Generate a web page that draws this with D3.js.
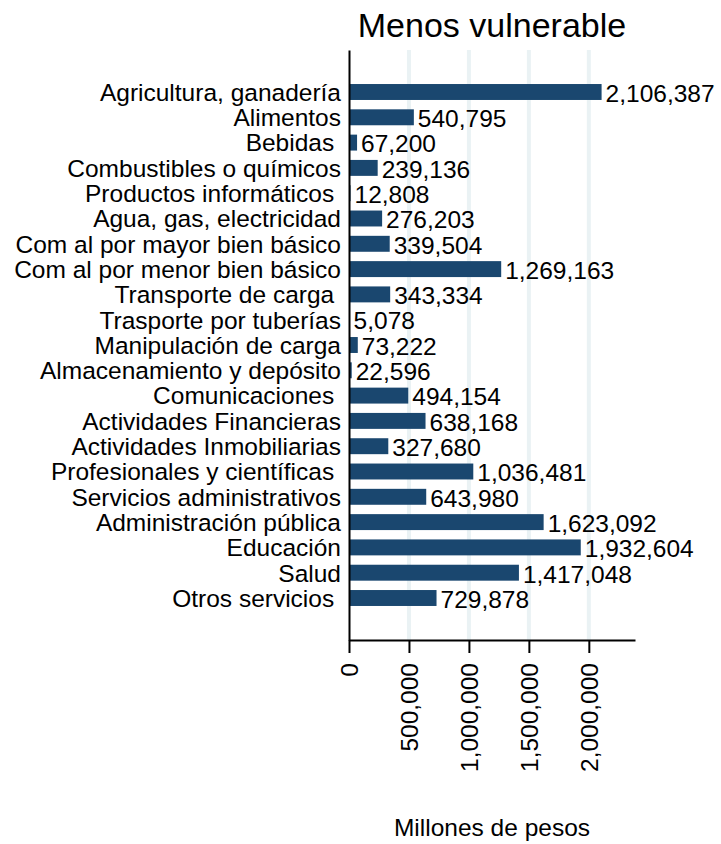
<!DOCTYPE html>
<html>
<head>
<meta charset="utf-8">
<script src="https://cdn.jsdelivr.net/npm/d3@7"></script>
<style>
  body { margin: 0; background: #fff; }
  text { font-family: "Liberation Sans", Arial, sans-serif; fill: #000; }
</style>
</head>
<body>
<div id="chart"></div>
<script>
// Data
const categories = [
  "Agricultura, ganadería", "Alimentos", "Bebidas ", "Combustibles o químicos",
  "Productos informáticos ", "Agua, gas, electricidad", "Com al por mayor bien básico",
  "Com al por menor bien básico", "Transporte de carga ", "Trasporte por tuberías",
  "Manipulación de carga", "Almacenamiento y depósito", "Comunicaciones ",
  "Actividades Financieras", "Actividades Inmobiliarias", "Profesionales y científicas ",
  "Servicios administrativos", "Administración pública", "Educación", "Salud",
  "Otros servicios "
];
const values = [
  2106387, 540795, 67200, 239136, 12808, 276203, 339504, 1269163, 343334, 5078,
  73222, 22596, 494154, 638168, 327680, 1036481, 643980, 1623092, 1932604, 1417048,
  729878
];
const tickValues = [0, 500000, 1000000, 1500000, 2000000];
const title = "Menos vulnerable";
const xTitle = "Millones de pesos";

const data = categories.map((c, i) => ({cat: c, val: values[i]}));

// Dimensions
const W = 721, H = 844;
const margin = {top: 50, left: 349, right: 86, bottom: 204};
const fmt = d3.format(",");

const svg = d3.select("#chart")
  .append("svg")
  .attr("width", W)
  .attr("height", H);

const x = d3.scaleLinear()
  .domain([0, 2385000])
  .range([margin.left, W - margin.right]);

const y = d3.scaleBand()
  .domain(categories)
  .range([margin.top, H - margin.bottom])
  .paddingInner(0.37)
  .paddingOuter(1.345);

// Gridlines
svg.append("g")
  .selectAll("line")
  .data(tickValues.slice(1))
  .join("line")
  .attr("x1", d => x(d))
  .attr("x2", d => x(d))
  .attr("y1", margin.top)
  .attr("y2", H - margin.bottom)
  .attr("stroke", "#eaf2f4")
  .attr("stroke-width", 4);

// Bars
svg.append("g")
  .selectAll("rect")
  .data(data)
  .join("rect")
  .attr("x", x(0))
  .attr("y", d => y(d.cat))
  .attr("width", d => x(d.val) - x(0))
  .attr("height", y.bandwidth())
  .attr("fill", "#1a476f");

// Value labels
svg.append("g")
  .selectAll("text")
  .data(data)
  .join("text")
  .attr("x", d => x(d.val) + 4)
  .attr("y", d => y(d.cat) + y.bandwidth() / 2)
  .attr("dy", "0.4em")
  .style("font-size", "24.5px")
  .text(d => fmt(d.val));

// Y axis
const yAxis = svg.append("g")
  .attr("transform", `translate(${margin.left},0)`)
  .call(d3.axisLeft(y).tickSize(0).tickSizeOuter(0).tickPadding(8));
yAxis.select(".domain").attr("stroke", "#000").attr("stroke-width", 2);
yAxis.selectAll("text")
  .style("font-size", "24.5px")
  .style("font-family", "'Liberation Sans', Arial, sans-serif")
  .style("white-space", "pre")
  .attr("dy", "0.36em");

// X axis
const xAxis = svg.append("g")
  .attr("transform", `translate(0,${H - margin.bottom})`)
  .call(d3.axisBottom(x).tickValues(tickValues).tickFormat(fmt).tickSize(13).tickSizeOuter(0));
xAxis.select(".domain").attr("stroke", "#000").attr("stroke-width", 2);
xAxis.selectAll(".tick line").attr("stroke", "#000").attr("stroke-width", 2);
xAxis.selectAll("text")
  .style("font-size", "24.5px")
  .style("font-family", "'Liberation Sans', Arial, sans-serif")
  .attr("transform", "translate(0,23) rotate(-90)")
  .attr("x", 0)
  .attr("y", 0)
  .attr("dy", "0.36em")
  .style("text-anchor", "end");

// Title
svg.append("text")
  .attr("x", (x.range()[0] + x.range()[1]) / 2)
  .attr("y", 37)
  .attr("text-anchor", "middle")
  .style("font-size", "34px")
  .text(title);

// X axis title
svg.append("text")
  .attr("x", (x.range()[0] + x.range()[1]) / 2)
  .attr("y", 836)
  .attr("text-anchor", "middle")
  .style("font-size", "24.5px")
  .text(xTitle);
</script>
</body>
</html>
